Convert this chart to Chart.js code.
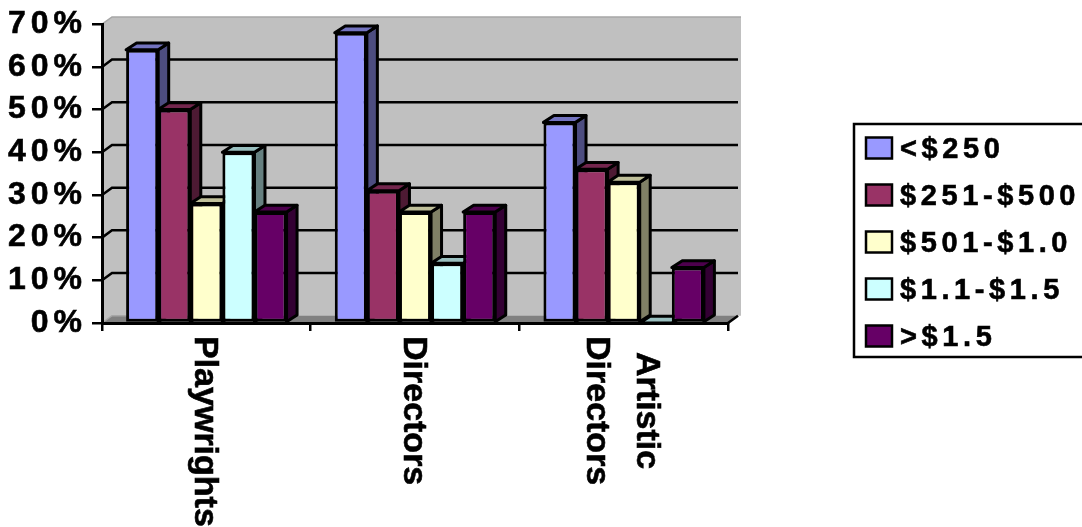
<!DOCTYPE html>
<html>
<head>
<meta charset="utf-8">
<title>Income by discipline</title>
<script src="https://cdn.jsdelivr.net/npm/chart.js@4"></script>
<style>
  html, body { margin: 0; padding: 0; background: #fff; overflow: hidden; }
  canvas { display: block; }
</style>
</head>
<body>
<canvas id="chart" width="1082" height="527"></canvas>
<script>
const categories = [["Playwrights"], ["Directors"], ["Artistic", "Directors"]];
const seriesNames = ["<$250", "$251-$500", "$501-$1.0", "$1.1-$1.5", ">$1.5"];
const under250 = [64, 68, 47];
const from251 = [50, 31, 36];
const from501 = [28, 26, 33];
const from11 = [40, 14, 0];
const over15 = [26, 26, 13];
const seriesValues = [under250, from251, from501, from11, over15];
const seriesColors = ["#9999ff", "#993366", "#ffffcc", "#ccffff", "#660066"];

const FONT = "'Liberation Sans', Arial, sans-serif";
const WALL_DX = 10;
const WALL_DY = 7.3;
const BAR_DX = 10.5;
const BAR_DY = 6.8;
const BAR_LINE = 3;

function shade(hex, f) {
  const n = parseInt(hex.slice(1), 16);
  const c = [n >> 16, (n >> 8) & 255, n & 255].map((v) => Math.round(v * f));
  return `rgb(${c[0]}, ${c[1]}, ${c[2]})`;
}

function poly(ctx, pts, fill, stroke, lw) {
  ctx.beginPath();
  pts.forEach((p, i) => (i ? ctx.lineTo(p[0], p[1]) : ctx.moveTo(p[0], p[1])));
  ctx.closePath();
  if (fill) {
    ctx.fillStyle = fill;
    ctx.fill();
  }
  if (stroke) {
    ctx.strokeStyle = stroke;
    ctx.lineWidth = lw;
    ctx.lineJoin = "round";
    ctx.stroke();
  }
}

function heavyText(ctx, text, x, y) {
  ctx.fillText(text, x, y);
  ctx.strokeText(text, x, y);
}

function drawCategoryLabels(chart) {
  const { ctx, scales } = chart;
  ctx.save();
  ctx.letterSpacing = "0px";
  ctx.font = `bold 34px ${FONT}`;
  ctx.fillStyle = "#000";
  ctx.strokeStyle = "#000";
  ctx.lineWidth = 0.6;
  ctx.textAlign = "left";
  ctx.textBaseline = "alphabetic";
  categories.forEach((lines, i) => {
    const cx = scales.x.getPixelForValue(i);
    const longest = Math.max(...lines.map((l) => ctx.measureText(l).width));
    lines.forEach((line, j) => {
      ctx.save();
      ctx.translate(cx - 11.5 + ((lines.length - 1) / 2 - j) * 50, 336);
      ctx.rotate(Math.PI / 2);
      heavyText(ctx, line, (longest - ctx.measureText(line).width) / 2, 0);
      ctx.restore();
    });
  });
  ctx.restore();
}

function drawLegend(chart) {
  const { ctx } = chart;
  ctx.save();
  ctx.strokeStyle = "#000";
  ctx.lineWidth = 2.5;
  ctx.strokeRect(854, 124, 240, 233);
  ctx.letterSpacing = "4.6px";
  ctx.font = `bold 29px ${FONT}`;
  ctx.textAlign = "left";
  ctx.textBaseline = "middle";
  seriesNames.forEach((name, i) => {
    const y = 148 + i * 47;
    ctx.lineWidth = 2.5;
    ctx.fillStyle = seriesColors[i];
    ctx.fillRect(866, y - 10.5, 26, 21);
    ctx.strokeRect(866, y - 10.5, 26, 21);
    ctx.fillStyle = "#000";
    ctx.lineWidth = 0.6;
    heavyText(ctx, name, 900, y + 1.5);
  });
  ctx.restore();
}

// side and top faces of one series, they sit under the series' own fronts
function drawBarDepth(ctx, meta, color) {
  meta.data.forEach((bar) => {
    const l = bar.x - bar.width / 2;
    const r = bar.x + bar.width / 2;
    const t = bar.y;
    const b = bar.base;
    poly(ctx, [[r, t], [r + BAR_DX, t - BAR_DY], [r + BAR_DX, b - BAR_DY], [r, b]], shade(color, 0.5), "#000", BAR_LINE);
    poly(ctx, [[l, t], [l + BAR_DX, t - BAR_DY], [r + BAR_DX, t - BAR_DY], [r, t]], shade(color, 0.75), "#000", BAR_LINE);
  });
}

const wallPlugin = {
  id: "wall",
  // back wall, floor and the gridlines behind the bars
  beforeDraw(chart) {
    const { ctx, scales } = chart;
    const { left, right, top, bottom } = chart.chartArea;
    // the value axis labels pick this spacing up from the context
    ctx.letterSpacing = "5px";
    ctx.save();
    poly(ctx, [[left, top], [left + WALL_DX, top - WALL_DY], [right + WALL_DX + 3, top - WALL_DY],
      [right + WALL_DX + 3, bottom - WALL_DY], [right + WALL_DX, bottom - WALL_DY], [right, bottom], [left, bottom]], "#c0c0c0");
    poly(ctx, [[left, bottom], [left + WALL_DX, bottom - WALL_DY], [right + WALL_DX, bottom - WALL_DY], [right, bottom]], "#808080");
    ctx.strokeStyle = "#a6a6a6";
    ctx.lineWidth = 1.5;
    ctx.beginPath();
    ctx.moveTo(left, top);
    ctx.lineTo(left + WALL_DX, top - WALL_DY);
    ctx.lineTo(right + WALL_DX + 3, top - WALL_DY);
    ctx.moveTo(left, bottom);
    ctx.lineTo(left + WALL_DX, bottom - WALL_DY);
    ctx.lineTo(left + 24, bottom - WALL_DY);
    ctx.stroke();
    ctx.strokeStyle = "#000";
    ctx.lineWidth = 2.5;
    scales.y.ticks.forEach((t) => {
      if (t.value <= 0 || t.value >= 70) return;
      const py = scales.y.getPixelForValue(t.value);
      ctx.beginPath();
      ctx.moveTo(left, py);
      ctx.lineTo(left + WALL_DX, py - WALL_DY);
      ctx.lineTo(right + WALL_DX, py - WALL_DY);
      ctx.stroke();
    });
    ctx.beginPath();
    ctx.moveTo(right, bottom);
    ctx.lineTo(right + WALL_DX, bottom - WALL_DY);
    ctx.stroke();
    ctx.restore();
  },
  // paint series left to right so each front hides its neighbour's side face
  beforeDatasetsDraw(chart) {
    const { ctx } = chart;
    seriesNames.forEach((name, i) => {
      const meta = chart.getDatasetMeta(i);
      ctx.save();
      drawBarDepth(ctx, meta, seriesColors[i]);
      ctx.restore();
      meta.controller.draw();
    });
    return false;
  },
  afterDraw(chart) {
    drawCategoryLabels(chart);
    drawLegend(chart);
  },
};

new Chart(document.getElementById("chart"), {
  type: "bar",
  plugins: [wallPlugin],
  data: {
    labels: categories.map((c) => c.join(" ")),
    datasets: seriesNames.map((name, i) => ({
      label: name,
      data: seriesValues[i],
      backgroundColor: seriesColors[i],
      borderColor: "#000",
      borderWidth: BAR_LINE,
      borderSkipped: false,
      categoryPercentage: 0.769,
      barPercentage: 1,
    })),
  },
  options: {
    responsive: false,
    animation: false,
    layout: { padding: { top: 23, right: 354, bottom: 196, left: 0 } },
    plugins: {
      tooltip: { enabled: false },
      legend: { display: false },
    },
    scales: {
      x: {
        afterFit(scale) {
          scale.height = 8;
        },
        ticks: { display: false },
        grid: { drawOnChartArea: false, color: "#000", lineWidth: 2.5, tickLength: 8 },
        border: { color: "#000", width: 3 },
      },
      y: {
        min: 0,
        max: 70,
        afterFit(scale) {
          scale.width = 102;
        },
        ticks: {
          stepSize: 10,
          padding: 5,
          color: "#000",
          textStrokeColor: "#000",
          textStrokeWidth: 0.6,
          font: { family: FONT, size: 32, weight: "bold" },
          callback: (v) => v + "%",
        },
        grid: { drawOnChartArea: false, color: "#000", lineWidth: 2.5, tickLength: 10 },
        border: { color: "#000", width: 3 },
      },
    },
  },
});
</script>
</body>
</html>
